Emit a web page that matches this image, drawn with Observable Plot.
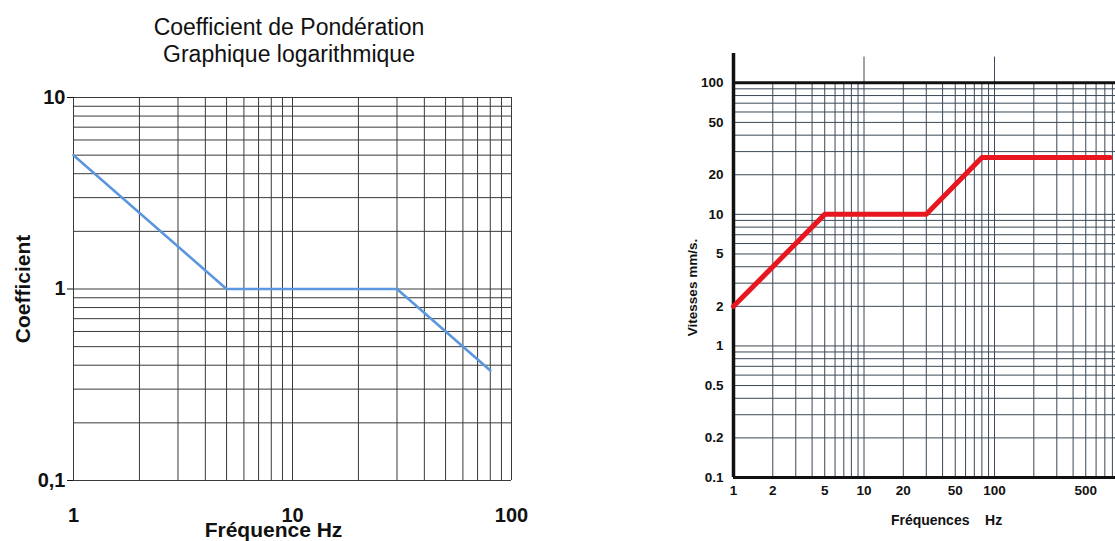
<!DOCTYPE html>
<html>
<head>
<meta charset="utf-8">
<script src="https://cdn.jsdelivr.net/npm/d3@7"></script>
<script src="https://cdn.jsdelivr.net/npm/@observablehq/plot@0.6"></script>
<style>
  html, body { margin: 0; padding: 0; background: #fff; width: 1115px; height: 541px; overflow: hidden; }
  #wrap { position: relative; width: 1115px; height: 541px; }
  #title { position: absolute; left: 0; top: 14px; width: 578px; text-align: center;
           font: 23px/27px "Liberation Sans", Arial, sans-serif; color: #111; }
  #left { position: absolute; left: 0; top: 70px; width: 520px; height: 471px; }
  #right { position: absolute; left: 660px; top: 0; width: 455px; height: 541px; }
  #left svg, #right svg { max-width: none; }
  [aria-label$="tick label"] text { font-weight: bold; }
</style>
</head>
<body>
<div id="wrap">
  <div id="title">Coefficient de Pondération<br>Graphique logarithmique</div>
  <div id="left"></div>
  <div id="right"></div>
</div>
<script>
// ---------- Left chart: Coefficient de Pondération ----------
const leftFreq = [1, 5, 30, 80];
const leftCoef = [5, 1, 1, 0.375];
const leftXTicks = [1, 10, 100];
const leftYTicks = [0.1, 1, 10];
const leftYTickLabels = ["0,1", "1", "10"];
const leftGridX = [1, 2, 3, 4, 5, 6, 7, 8, 9, 10, 20, 30, 40, 50, 60, 70, 80, 90, 100];
const leftGridY = [0.1, 0.2, 0.3, 0.4, 0.5, 0.6, 0.7, 0.8, 0.9, 1, 2, 3, 4, 5, 6, 7, 8, 9, 10];

// ---------- Right chart: Vitesses mm/s ----------
const rightFreq = [1, 5, 30, 80, 770];
const rightSpeed = [2, 10, 10, 27, 27];
const rightXTicks = [1, 2, 5, 10, 20, 50, 100, 500];
const rightYTicks = [0.1, 0.2, 0.5, 1, 2, 5, 10, 20, 50, 100];
const rightGridX = [2, 3, 4, 5, 6, 7, 8, 9, 10, 20, 30, 40, 50, 60, 70, 80, 90, 100, 200, 300, 400, 500, 600, 700, 800];
const rightTallX = [10, 100];
const rightGridY = [0.2, 0.3, 0.4, 0.5, 0.6, 0.7, 0.8, 0.9, 1, 2, 3, 4, 5, 6, 7, 8, 9, 10, 20, 30, 40, 50, 60, 70, 80, 90];
const rightBoldY = [0.1, 100];

const FONT = '"Liberation Sans", Arial, sans-serif';

const leftData = leftFreq.map((f, i) => ({f, v: leftCoef[i]}));
const rightData = rightFreq.map((f, i) => ({f, v: rightSpeed[i]}));

const leftPlot = Plot.plot({
  width: 520, height: 471,
  marginLeft: 73, marginRight: 9, marginTop: 27, marginBottom: 61,
  style: {fontFamily: FONT, background: "transparent", color: "#111", overflow: "visible"},
  x: {type: "log", domain: [1, 100], axis: null},
  y: {type: "log", domain: [0.1, 10]},
  marks: [
    Plot.ruleX(leftGridX, {stroke: "#3a3a3a", strokeWidth: 1}),
    Plot.ruleY(leftGridY, {stroke: "#3a3a3a", strokeWidth: 1}),
    Plot.line(leftData, {x: "f", y: "v", stroke: "#5b97de", strokeWidth: 2.6}),
    Plot.axisY({ticks: leftYTicks, tickFormat: d => leftYTickLabels[leftYTicks.indexOf(d)],
                tickSize: 6, tickPadding: 2, fontSize: 20, fontWeight: "bold", label: null}),
    Plot.text(leftXTicks, {x: d => d, text: d => String(d), frameAnchor: "bottom", lineAnchor: "top",
                dy: 27, fontSize: 20, fontWeight: "bold"}),
    Plot.text(["Coefficient"], {text: d => d, frameAnchor: "left", rotate: -90, textAnchor: "middle",
                dx: -50, fontSize: 21, fontWeight: "bold"}),
    Plot.text(["Fréquence Hz"], {text: d => d, frameAnchor: "bottom", textAnchor: "middle",
                dx: -19, dy: 56, fontSize: 21, fontWeight: "bold"})
  ]
});
document.getElementById("left").appendChild(leftPlot);

const rightPlot = Plot.plot({
  width: 455, height: 541,
  marginLeft: 73, marginRight: 0, marginTop: 53, marginBottom: 64,
  style: {fontFamily: FONT, background: "transparent", color: "#111", overflow: "visible"},
  x: {type: "log", domain: [1, 845], axis: null},
  y: {type: "log", domain: [0.1, 167], axis: null},
  marks: [
    Plot.ruleX(rightGridX, {y1: 0.1, y2: 100, stroke: "#3b4856", strokeWidth: 1}),
    Plot.ruleX(rightTallX, {y1: 100, y2: 157, stroke: "#3b4856", strokeWidth: 1}),
    Plot.ruleY(rightGridY, {stroke: "#3b4856", strokeWidth: 1}),
    Plot.ruleY(rightBoldY, {stroke: "#111", strokeWidth: 3}),
    Plot.ruleX([1], {y1: 0.1, y2: 167, stroke: "#111", strokeWidth: 3.5}),
    Plot.line(rightData, {x: "f", y: "v", stroke: "#e8161e", strokeWidth: 5}),
    Plot.text(rightYTicks, {y: d => d, text: d => String(d), frameAnchor: "left", textAnchor: "end",
                dx: -10, fontSize: 13.5, fontWeight: "bold"}),
    Plot.text(rightXTicks, {x: d => d, text: d => String(d), frameAnchor: "bottom", lineAnchor: "top",
                dy: 8, fontSize: 13.5, fontWeight: "bold"}),
    Plot.text(["Vitesses mm/s."], {text: d => d, frameAnchor: "left", rotate: -90, textAnchor: "middle",
                dx: -40.5, dy: 22, fontSize: 13.5, fontWeight: "bold"}),
    Plot.text(["Fréquences\u00a0\u00a0\u00a0\u00a0Hz"], {text: d => d, frameAnchor: "bottom", textAnchor: "middle",
                dx: 22, dy: 47, fontSize: 14, fontWeight: "bold"})
  ]
});
document.getElementById("right").appendChild(rightPlot);
</script>
</body>
</html>
